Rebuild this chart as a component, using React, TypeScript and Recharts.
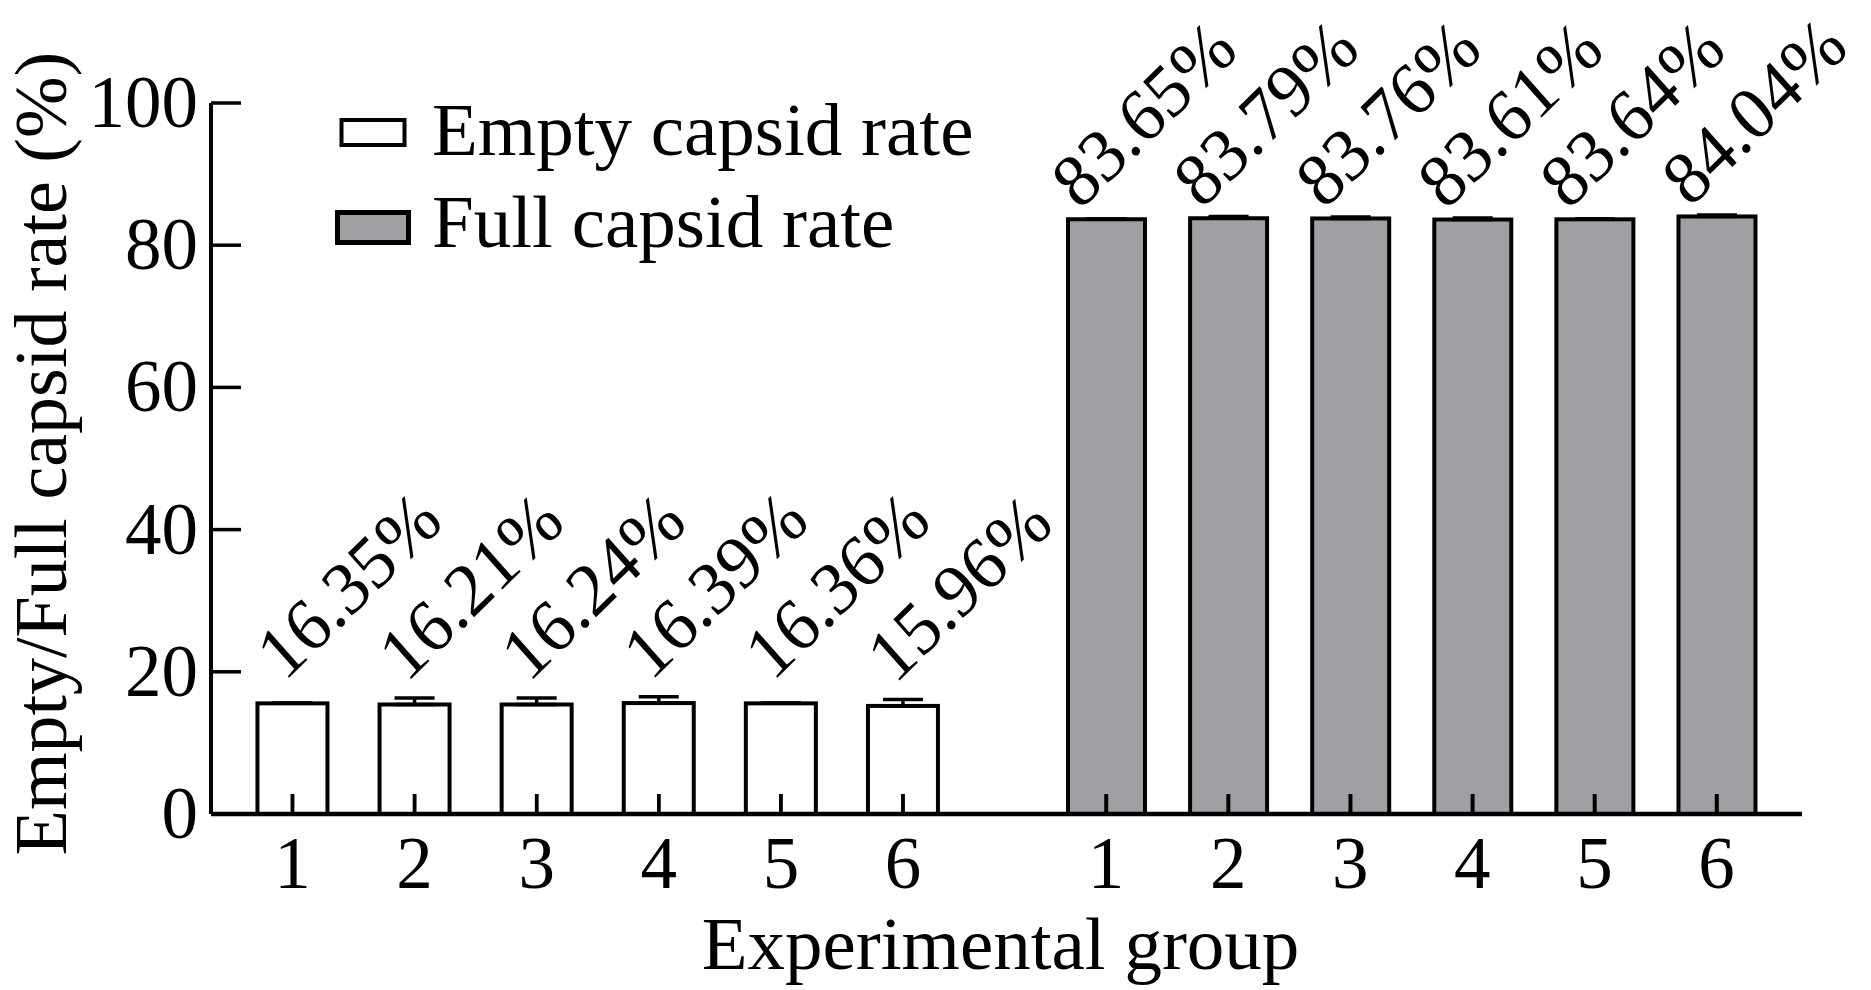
import React from 'react';
import { BarChart, Bar, XAxis, YAxis, ErrorBar, LabelList, Legend } from 'recharts';

const groups = ['1', '2', '3', '4', '5', '6'];
const emptyPos = [1, 2, 3, 4, 5, 6];
const fullPos = [7.663, 8.663, 9.663, 10.663, 11.663, 12.663];
const emptyRate = [15.56, 15.4, 15.4, 15.6, 15.56, 15.2];
const emptyErr = [0, 0.9, 0.9, 0.9, 0, 0.9];
const emptyLabels = ['16.35%', '16.21%', '16.24%', '16.39%', '16.36%', '15.96%'];
const fullRate = [83.65, 83.79, 83.76, 83.61, 83.64, 84.04];
const fullErr = [0, 0.25, 0.2, 0.2, 0.05, 0.2];
const fullLabels = ['83.65%', '83.79%', '83.76%', '83.61%', '83.64%', '84.04%'];
const seriesNames = ['Empty capsid rate', 'Full capsid rate'];
const yTicks = [0, 20, 40, 60, 80, 100];
const xDomain = [0.3325, 13.363];

const xTicks = [...emptyPos, ...fullPos];
const xTickLabels = [...groups, ...groups];

const data = [
  ...groups.map((g, i) => ({
    x: emptyPos[i],
    group: g,
    empty: emptyRate[i],
    emptyErr: [0, emptyErr[i]],
    emptyLabel: emptyLabels[i],
    full: null,
    fullErr: null,
    fullLabel: null,
  })),
  ...groups.map((g, i) => ({
    x: fullPos[i],
    group: g,
    empty: null,
    emptyErr: null,
    emptyLabel: null,
    full: fullRate[i],
    fullErr: [0, fullErr[i]],
    fullLabel: fullLabels[i],
  })),
];

const FONT = '"Liberation Serif", "Times New Roman", Times, serif';

const XTick = (props: any) => {
  const { x, y, payload } = props;
  const i = xTicks.indexOf(payload.value);
  return (
    <g>
      <line x1={x} x2={x} y1={y} y2={y - 20} stroke="#000" strokeWidth={3.5} />
      <text x={x} y={y + 74} textAnchor="middle" fontSize={73} fontFamily={FONT} fill="#000">
        {i >= 0 ? xTickLabels[i] : ''}
      </text>
    </g>
  );
};

const YTick = (props: any) => {
  const { x, y, payload } = props;
  return (
    <g>
      <line x1={x} x2={x + 30} y1={y} y2={y} stroke="#000" strokeWidth={3.5} />
      <text x={x - 13} y={y + 24} textAnchor="end" fontSize={73} fontFamily={FONT} fill="#000">
        {payload.value}
      </text>
    </g>
  );
};

// Bar rectangle plus the inward-pointing x-axis tick that shows on top of it
const BarWithTick = (props: any) => {
  const { x, y, width, height, fill, stroke, strokeWidth } = props;
  if (x == null || y == null || !width || !height) return null;
  const cx = x + width / 2;
  const base = y + height;
  return (
    <g>
      <rect x={x} y={y} width={width} height={height} fill={fill} stroke={stroke} strokeWidth={strokeWidth} />
      <line x1={cx} x2={cx} y1={base} y2={base - 20} stroke="#000" strokeWidth={3.5} />
    </g>
  );
};

const makeLabel = (dx: number, dy: number) => (props: any) => {
  const vb = props.viewBox && props.viewBox.width != null ? props.viewBox : props;
  const { value } = props;
  if (value == null || vb.x == null) return null;
  const ax = Number(vb.x) + Number(vb.width) / 2 + dx;
  const ay = Number(vb.y) + dy;
  return (
    <text
      x={0}
      y={0}
      transform={`translate(${ax} ${ay}) scale(0.95 1) rotate(-43)`}
      fontSize={75}
      fontFamily={FONT}
      fill="#000"
    >
      {value}
    </text>
  );
};

const LegendContent = (props: any) => {
  const items = (props.payload || []).filter(
    (it: any) => it.type !== 'none' && seriesNames.includes(it.value)
  );
  const boxes = [
    { x: 21.5, y: 50, w: 63, h: 25, sw: 4, ty: 85 },
    { x: 17.5, y: 142.5, w: 71, h: 30, sw: 5, ty: 177 },
  ];
  return (
    <svg width={720} height={210} style={{ display: 'block' }}>
      {items.map((it: any, i: number) => {
        const b = boxes[i] || boxes[0];
        return (
          <g key={i}>
            <rect x={b.x} y={b.y} width={b.w} height={b.h} fill={it.color} stroke="#000" strokeWidth={b.sw} />
            <text x={112} y={b.ty} fontSize={75} fontFamily={FONT} fill="#000">
              {it.value}
            </text>
          </g>
        );
      })}
    </svg>
  );
};

const YTitle = (props: any) => {
  const vb = props.viewBox || { x: 0, y: 0, width: 0, height: 0 };
  const cx = vb.x + 66;
  const cy = vb.y + vb.height / 2 - 5;
  return (
    <text
      x={cx}
      y={cy}
      transform={`rotate(-90 ${cx} ${cy})`}
      textAnchor="middle"
      fontSize={74}
      fontFamily={FONT}
      fill="#000"
    >
      Empty/Full capsid rate (%)
    </text>
  );
};

const XTitle = (props: any) => {
  const vb = props.viewBox || { x: 0, y: 0, width: 0, height: 0 };
  return (
    <text
      x={vb.x + vb.width / 2 - 6}
      y={vb.y + 155}
      textAnchor="middle"
      fontSize={75}
      fontFamily={FONT}
      fill="#000"
    >
      Experimental group
    </text>
  );
};

export default function App() {
  return (
    <div style={{ position: 'absolute', left: 0, top: 0, width: 1871, height: 990, background: '#fff' }}>
      <BarChart
        width={1871}
        height={990}
        data={data}
        margin={{ top: 103, right: 69, bottom: 0, left: 0 }}
      >
        <Bar
          xAxisId="empty"
          dataKey="empty"
          name={seriesNames[0]}
          fill="#ffffff"
          stroke="#000"
          strokeWidth={4}
          barSize={70}
          shape={<BarWithTick />}
          isAnimationActive={false}
        >
          <ErrorBar dataKey="emptyErr" width={20} strokeWidth={3.5} stroke="#000" direction="y" />
          <LabelList dataKey="emptyLabel" content={makeLabel(-8, -21)} />
        </Bar>
        <Bar
          xAxisId="full"
          dataKey="full"
          name={seriesNames[1]}
          fill="#a0a0a4"
          stroke="#000"
          strokeWidth={4}
          barSize={77}
          shape={<BarWithTick />}
          isAnimationActive={false}
        >
          <ErrorBar dataKey="fullErr" width={20} strokeWidth={3.5} stroke="#000" direction="y" />
          <LabelList dataKey="fullLabel" content={makeLabel(-27, -8)} />
        </Bar>
        <XAxis
          xAxisId="empty"
          type="number"
          dataKey="x"
          domain={xDomain}
          allowDataOverflow
          ticks={xTicks}
          interval={0}
          tickSize={0}
          tickMargin={0}
          tickLine={false}
          tick={<XTick />}
          axisLine={{ stroke: '#000', strokeWidth: 4.5 }}
          height={176}
          label={<XTitle />}
        />
        <XAxis xAxisId="full" type="number" dataKey="x" domain={xDomain} allowDataOverflow hide />
        <YAxis
          type="number"
          domain={[0, 100]}
          ticks={yTicks}
          interval={0}
          tickSize={0}
          tickMargin={0}
          tickLine={false}
          tick={<YTick />}
          axisLine={{ stroke: '#000', strokeWidth: 4 }}
          width={211}
          label={<YTitle />}
        />
        <Legend
          layout="horizontal"
          verticalAlign="middle"
          align="center"
          wrapperStyle={{ left: 320, top: 70, width: 720, height: 210 }}
          content={<LegendContent />}
        />
      </BarChart>
    </div>
  );
}
